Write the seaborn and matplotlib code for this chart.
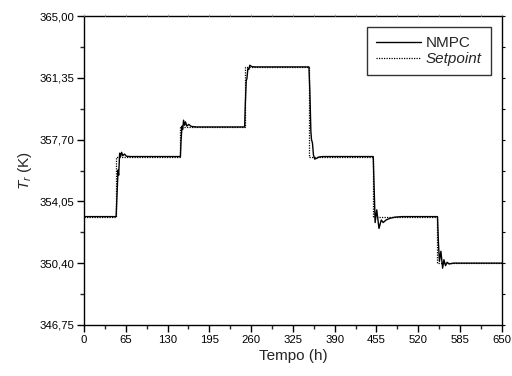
import numpy as np
import pandas as pd
import seaborn as sns
import matplotlib.pyplot as plt
from matplotlib.ticker import FixedLocator, FuncFormatter

# setpoint steps (h, K)
sp_time = [0, 50, 150, 250, 350, 450, 550, 650]
sp_temp = [353.15, 356.70, 358.45, 362.00, 356.70, 353.15, 350.40, 350.40]

# NMPC response
nmpc_time = [0, 50, 51.5, 53, 54, 55.5, 57, 58.5, 60.5, 63, 66, 72,
             150, 151, 152.5, 153.5, 155, 156.5, 158, 160, 163, 167, 175,
             250, 251, 252.5, 253.5, 255, 256.5, 258, 261, 266,
             350, 351.5, 353, 354, 355.5, 357, 359, 362, 366, 372,
             450, 451.5, 453, 455.5, 459, 462.5, 465.5, 470, 476, 484, 495,
             550, 551.5, 553, 555.3, 558, 560, 562.5, 565, 568, 575, 650]
nmpc_temp = [353.15, 353.15, 354.5, 355.9, 355.6, 356.9, 356.7, 356.95, 356.75, 356.85, 356.72, 356.70,
             356.70, 357.6, 358.5, 358.3, 358.85, 358.55, 358.75, 358.5, 358.6, 358.48, 358.45,
             358.45, 359.8, 361.2, 361.3, 361.9, 361.85, 362.1, 362.02, 362.00,
             362.00, 360.5, 358.2, 357.7, 357.5, 356.8, 356.55, 356.6, 356.68, 356.70,
             356.70, 354.8, 352.8, 353.55, 352.45, 352.95, 352.8, 352.95, 353.05, 353.12, 353.15,
             353.15, 351.6, 350.5, 351.1, 350.1, 350.6, 350.25, 350.45, 350.35, 350.40, 350.40]

x_ticks = [0, 65, 130, 195, 260, 325, 390, 455, 520, 585, 650]
y_ticks = [346.75, 350.40, 354.05, 357.70, 361.35, 365.00]
x_minor = [v + 32.5 for v in x_ticks[:-1]]
y_minor = [v + 1.825 for v in y_ticks[:-1]]

sns.set_style("white")
plt.rcParams['font.family'] = ['Liberation Sans', 'DejaVu Sans']
plt.rcParams['mathtext.fontset'] = 'custom'
plt.rcParams['mathtext.it'] = 'Liberation Sans:italic'
plt.rcParams['mathtext.rm'] = 'Liberation Sans'

fig = plt.figure(figsize=(5.12, 3.76), dpi=100)
ax = fig.add_axes([0.164, 0.136, 0.816, 0.821])

nmpc = pd.DataFrame({'t': nmpc_time, 'T': nmpc_temp})
sp = pd.DataFrame({'t': sp_time, 'T': sp_temp})

sns.lineplot(data=nmpc, x='t', y='T', ax=ax, color='black', linewidth=1.0,
             label='NMPC', sort=False)
sns.lineplot(data=sp, x='t', y='T', ax=ax, color='black', linewidth=0.9,
             linestyle=(0, (1, 1)), drawstyle='steps-post', label='Setpoint', sort=False)

ax.set_xlim(0, 650)
ax.set_ylim(346.75, 365.0)
ax.xaxis.set_major_locator(FixedLocator(x_ticks))
ax.xaxis.set_minor_locator(FixedLocator(x_minor))
ax.yaxis.set_major_locator(FixedLocator(y_ticks))
ax.yaxis.set_minor_locator(FixedLocator(y_minor))
ax.yaxis.set_major_formatter(FuncFormatter(lambda v, p: f"{v:.2f}".replace('.', ',')))

ax.tick_params(axis='both', which='major', direction='out', length=5, width=1,
               labelsize=8.2, colors='black', pad=2)
ax.tick_params(axis='both', which='minor', direction='out', length=3, width=1)

# tiny ticks on the top and right frame
axt = ax.twiny()
axt.set_xlim(ax.get_xlim())
axt.xaxis.set_major_locator(FixedLocator(x_ticks))
axt.xaxis.set_minor_locator(FixedLocator(x_minor))
axt.tick_params(axis='x', which='both', direction='out', length=1.5, width=0.8,
                colors='#aaaaaa', labeltop=False)
axr = ax.twinx()
axr.set_ylim(ax.get_ylim())
axr.yaxis.set_major_locator(FixedLocator(y_ticks))
axr.yaxis.set_minor_locator(FixedLocator(y_minor))
axr.tick_params(axis='y', which='both', direction='out', length=2, width=0.8,
                colors='black', labelright=False)
for a in (axt, axr):
    for s in a.spines.values():
        s.set_visible(False)

for s in ax.spines.values():
    s.set_color('black')
    s.set_linewidth(1.0)

ax.set_xlabel('Tempo (h)', fontsize=11, labelpad=3)
ax.set_ylabel('$T_r$ (K)', fontsize=11, labelpad=4)

leg = ax.legend(loc='upper right', fontsize=11, frameon=True, fancybox=False,
                edgecolor='black', handlelength=2.9, handletextpad=0.35,
                borderpad=0.6, labelspacing=0.15, borderaxespad=0.7)
leg.get_frame().set_linewidth(1.0)
leg.get_texts()[1].set_fontstyle('italic')

fig.savefig('out.png', dpi=100)
